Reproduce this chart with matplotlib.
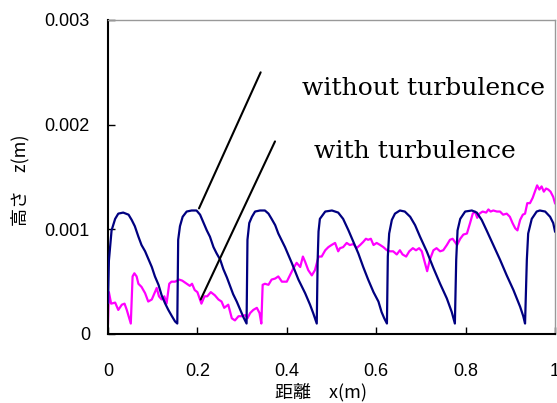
import matplotlib
matplotlib.use("Agg")
import matplotlib.pyplot as plt

# ---- data ----
blue_x = [0.000, 0.002, 0.008, 0.016, 0.023, 0.034, 0.046, 0.053, 0.060, 0.068, 0.075, 0.083, 0.090, 0.098,
          0.105, 0.113, 0.120, 0.128, 0.135, 0.143, 0.150, 0.155,
          0.157, 0.161, 0.167, 0.176, 0.187, 0.198, 0.206, 0.213, 0.221, 0.228, 0.236, 0.243, 0.251, 0.258,
          0.266, 0.273, 0.280, 0.288, 0.295, 0.303, 0.310,
          0.312, 0.316, 0.322, 0.329, 0.340, 0.351, 0.359, 0.366, 0.374, 0.381, 0.396, 0.411, 0.426, 0.441,
          0.452, 0.459, 0.467,
          0.469, 0.471, 0.474, 0.486, 0.501, 0.515, 0.526, 0.538, 0.549, 0.560, 0.571, 0.582, 0.594, 0.605,
          0.612, 0.618, 0.624,
          0.626, 0.629, 0.635, 0.642, 0.653, 0.664, 0.676, 0.687, 0.698, 0.713, 0.728, 0.743, 0.758, 0.769, 0.776,
          0.779, 0.782, 0.788, 0.799, 0.814, 0.825, 0.836, 0.847, 0.862, 0.877, 0.892, 0.907, 0.922, 0.929, 0.933,
          0.937, 0.940, 0.948, 0.959, 0.966, 0.978, 0.989, 0.996, 1.000]
blue_z = [0.00030, 0.00070, 0.00099, 0.00110, 0.00115, 0.00116, 0.00114, 0.00109, 0.00103, 0.00093, 0.00085,
          0.00079, 0.00072, 0.00064, 0.00055, 0.00047, 0.00037, 0.00029, 0.00023, 0.00017, 0.00012, 0.00010,
          0.00090, 0.00103, 0.00112, 0.00117, 0.00118, 0.00118, 0.00114, 0.00107, 0.00099, 0.00093, 0.00083,
          0.00077, 0.00071, 0.00062, 0.00054, 0.00046, 0.00038, 0.00031, 0.00024, 0.00016, 0.00010,
          0.00090, 0.00106, 0.00112, 0.00117, 0.00118, 0.00118, 0.00115, 0.00110, 0.00104, 0.00096, 0.00083,
          0.00068, 0.00052, 0.00039, 0.00028, 0.00020, 0.00010,
          0.00070, 0.00098, 0.00110, 0.00117, 0.00118, 0.00116, 0.00110, 0.00099, 0.00088, 0.00077, 0.00064,
          0.00052, 0.00040, 0.00031, 0.00021, 0.00015, 0.00010,
          0.00074, 0.00096, 0.00109, 0.00115, 0.00118, 0.00117, 0.00112, 0.00104, 0.00093, 0.00079, 0.00063,
          0.00048, 0.00034, 0.00021, 0.00010,
          0.00071, 0.00099, 0.00110, 0.00117, 0.00118, 0.00116, 0.00109, 0.00099, 0.00085, 0.00071, 0.00056,
          0.00042, 0.00026, 0.00017, 0.00010,
          0.00071, 0.00096, 0.00110, 0.00117, 0.00118, 0.00117, 0.00112, 0.00106, 0.00098]

magenta_x = [0.000, 0.002, 0.007, 0.016, 0.023, 0.031, 0.037, 0.042, 0.051, 0.055, 0.059, 0.064, 0.068, 0.075,
             0.083, 0.090, 0.098, 0.104, 0.109, 0.114, 0.120, 0.126, 0.131, 0.137, 0.142, 0.150, 0.159, 0.166,
             0.176, 0.183, 0.188, 0.194, 0.200, 0.209, 0.216, 0.222, 0.230, 0.239, 0.247, 0.254, 0.260, 0.269,
             0.277, 0.284, 0.292, 0.299, 0.307, 0.312, 0.318, 0.325, 0.333, 0.339, 0.343, 0.346, 0.351, 0.359,
             0.366, 0.374, 0.381, 0.389, 0.400, 0.407, 0.415, 0.422, 0.430, 0.436, 0.441, 0.448, 0.456, 0.463,
             0.471, 0.478, 0.486, 0.493, 0.500, 0.508, 0.515, 0.519, 0.526, 0.534, 0.541, 0.549, 0.556, 0.564,
             0.571, 0.577, 0.582, 0.588, 0.594, 0.601, 0.609, 0.616, 0.624, 0.631, 0.638, 0.646, 0.653, 0.659,
             0.667, 0.674, 0.682, 0.689, 0.696, 0.702, 0.709, 0.714, 0.720, 0.728, 0.735, 0.743, 0.750, 0.758,
             0.765, 0.771, 0.776, 0.781, 0.788, 0.795, 0.803, 0.810, 0.816, 0.821, 0.826, 0.831, 0.838, 0.846,
             0.851, 0.856, 0.862, 0.870, 0.877, 0.884, 0.892, 0.899, 0.905, 0.911, 0.916, 0.922, 0.928, 0.933,
             0.938, 0.944, 0.950, 0.955, 0.960, 0.965, 0.970, 0.975, 0.980, 0.985, 0.990, 0.996, 1.000]
magenta_z = [0.00010, 0.00040, 0.00029, 0.00030, 0.00023, 0.00028, 0.00029, 0.00023, 0.00010, 0.00055, 0.00058,
             0.00055, 0.00048, 0.00045, 0.00039, 0.00031, 0.00033, 0.00039, 0.00044, 0.00036, 0.00033, 0.00036,
             0.00029, 0.00048, 0.00050, 0.00050, 0.00052, 0.00051, 0.00048, 0.00046, 0.00048, 0.00042, 0.00040,
             0.00029, 0.00036, 0.00036, 0.00040, 0.00037, 0.00033, 0.00031, 0.00025, 0.00028, 0.00015, 0.00013,
             0.00017, 0.00017, 0.00018, 0.00015, 0.00020, 0.00023, 0.00025, 0.00020, 0.00010, 0.00047, 0.00048,
             0.00047, 0.00052, 0.00053, 0.00055, 0.00050, 0.00050, 0.00056, 0.00063, 0.00068, 0.00064, 0.00074,
             0.00069, 0.00061, 0.00056, 0.00061, 0.00074, 0.00074, 0.00080, 0.00083, 0.00085, 0.00087, 0.00079,
             0.00082, 0.00083, 0.00087, 0.00085, 0.00086, 0.00082, 0.00085, 0.00088, 0.00091, 0.00090, 0.00091,
             0.00085, 0.00087, 0.00085, 0.00083, 0.00080, 0.00079, 0.00079, 0.00076, 0.00080, 0.00076, 0.00074,
             0.00079, 0.00082, 0.00080, 0.00082, 0.00079, 0.00068, 0.00060, 0.00071, 0.00080, 0.00082, 0.00079,
             0.00080, 0.00085, 0.00090, 0.00091, 0.00088, 0.00085, 0.00091, 0.00095, 0.00096, 0.00106, 0.00115,
             0.00117, 0.00111, 0.00115, 0.00117, 0.00116, 0.00119, 0.00117, 0.00118, 0.00117, 0.00117, 0.00114,
             0.00115, 0.00112, 0.00106, 0.00101, 0.00099, 0.00109, 0.00114, 0.00115, 0.00125, 0.00125, 0.00130,
             0.00136, 0.00142, 0.00138, 0.00141, 0.00136, 0.00139, 0.00138, 0.00136, 0.00131, 0.00125]

x_ticks = [0, 0.2, 0.4, 0.6, 0.8, 1.0]
x_tick_labels = ["0", "0.2", "0.4", "0.6", "0.8", "1"]
y_ticks = [0, 0.001, 0.002, 0.003]
y_tick_labels = ["0", "0.001", "0.002", "0.003"]

label_without = "without turbulence"
label_with = "with turbulence"
xlabel = "距離\u3000x(m)"
ylabel = "高さ\u3000z(m)"

# annotation leader lines (tip on curve, tail near text)
lead_without_tip = (0.2036, 0.00120)
lead_without_tail = (0.3415, 0.00250)
lead_with_tip = (0.2074, 0.00033)
lead_with_tail = (0.3736, 0.00184)
text_without_pos = (0.706, 0.00235)
text_with_pos = (0.686, 0.00174)

# ---- figure ----
fig = plt.figure(figsize=(5.57, 4.03), dpi=100)
ax = fig.add_axes([108 / 557, 1 - 334 / 403, (555 - 108) / 557, (334 - 20) / 403])

ax.plot(blue_x, blue_z, color="#000080", lw=1.6, zorder=3)
ax.plot(magenta_x, magenta_z, color="#FF00FF", lw=1.6, zorder=2)

ax.set_xlim(0, 1)
ax.set_ylim(0, 0.003)
ax.set_xticks(x_ticks)
ax.set_xticklabels(x_tick_labels)
ax.set_yticks(y_ticks)
ax.set_yticklabels(y_tick_labels)

for lab in ax.get_xticklabels() + ax.get_yticklabels():
    lab.set_fontfamily("Liberation Sans")
    lab.set_fontsize(13)

ax.tick_params(axis="both", direction="in", length=5, width=1, color="black")
ax.tick_params(axis="x", pad=21)
ax.tick_params(axis="y", pad=13)

for s in ["left", "bottom"]:
    ax.spines[s].set_color("black")
    ax.spines[s].set_linewidth(1.5)
for s in ["top", "right"]:
    ax.spines[s].set_color("#999999")
    ax.spines[s].set_linewidth(1.0)

ax.annotate("", xy=lead_without_tip, xytext=lead_without_tail,
            arrowprops=dict(arrowstyle="-", color="black", lw=1.5, shrinkA=0, shrinkB=0))
ax.annotate("", xy=lead_with_tip, xytext=lead_with_tail,
            arrowprops=dict(arrowstyle="-", color="black", lw=1.5, shrinkA=0, shrinkB=0))

ax.text(*text_without_pos, label_without, family="DejaVu Serif", fontsize=18,
        ha="center", va="center")
ax.text(*text_with_pos, label_with, family="DejaVu Serif", fontsize=18,
        ha="center", va="center")

cjk = ["Noto Sans CJK JP", "DejaVu Sans"]
fig.text(321 / 557, 1 - 392 / 403, xlabel, family=cjk, fontsize=13, ha="center", va="center")
fig.text(20 / 557, 1 - 180 / 403, ylabel, family=cjk, fontsize=13, ha="center", va="center",
         rotation=90)

fig.savefig("out.png", dpi=100)
